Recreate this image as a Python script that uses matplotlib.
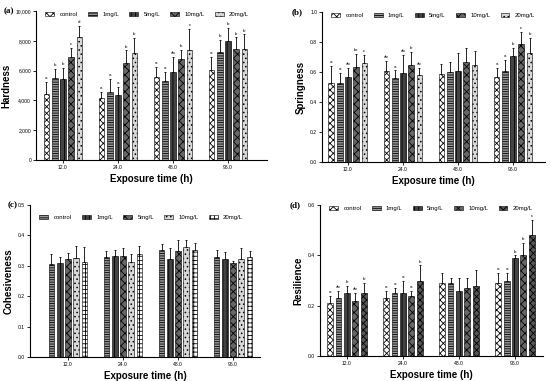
import numpy as np
import matplotlib.pyplot as plt
from matplotlib.ticker import FuncFormatter

plt.rcParams['font.family'] = ['Liberation Sans', 'DejaVu Sans']
plt.rcParams['hatch.linewidth'] = 0.6

times = ['12.0', '24.0', '48.0', '96.0']
series = ['control', '1mg/L', '5mg/L', '10mg/L', '20mg/L']

# rows = exposure time, columns = series
hard_mean = [[4450, 5500, 5430, 6880, 8250],
             [4170, 4560, 4380, 6500, 7200],
             [5600, 5330, 5900, 6800, 7380],
             [6070, 7280, 8000, 7430, 7480]]
hard_err = [[800, 620, 750, 650, 750],
            [420, 880, 530, 850, 1000],
            [650, 580, 1000, 600, 1400],
            [850, 800, 850, 800, 950]]
hard_sig = [['a', 'b', 'b', 'c', 'd'],
            ['a', 'a', 'a', 'b', 'b'],
            ['a', 'a', 'ab', 'b', 'c'],
            ['a', 'b', 'b', 'b', 'b']]

spring_mean = [[0.53, 0.53, 0.565, 0.635, 0.66],
               [0.61, 0.56, 0.595, 0.65, 0.58],
               [0.585, 0.60, 0.605, 0.67, 0.65],
               [0.565, 0.605, 0.71, 0.785, 0.73]]
spring_err = [[0.11, 0.065, 0.065, 0.085, 0.055],
              [0.065, 0.05, 0.12, 0.085, 0.05],
              [0.07, 0.07, 0.12, 0.09, 0.09],
              [0.06, 0.075, 0.05, 0.085, 0.10]]
spring_sig = [['a', 'a', 'ab', 'bc', 'c'],
              ['ab', 'a', 'ab', 'b', 'ab'],
              ['', '', '', '', ''],
              ['a', 'a', 'b', 'c', 'b']]

coh_mean = [[0.305, 0.308, 0.322, 0.325, 0.312],
            [0.328, 0.333, 0.332, 0.312, 0.340],
            [0.352, 0.324, 0.350, 0.362, 0.352],
            [0.328, 0.324, 0.308, 0.322, 0.330]]
coh_err = [[0.035, 0.022, 0.02, 0.04, 0.05],
           [0.02, 0.018, 0.025, 0.028, 0.026],
           [0.02, 0.036, 0.035, 0.022, 0.022],
           [0.023, 0.02, 0.008, 0.036, 0.02]]

res_mean = [[0.21, 0.23, 0.25, 0.22, 0.25],
            [0.23, 0.25, 0.25, 0.24, 0.30],
            [0.29, 0.29, 0.26, 0.27, 0.28],
            [0.29, 0.30, 0.39, 0.40, 0.48]]
res_err = [[0.03, 0.03, 0.03, 0.03, 0.04],
           [0.03, 0.02, 0.05, 0.02, 0.06],
           [0.04, 0.02, 0.05, 0.04, 0.06],
           [0.04, 0.03, 0.01, 0.05, 0.06]]
res_sig = [['a', 'ab', 'b', 'ab', 'b'],
           ['a', 'a', 'a', 'a', 'b'],
           ['', '', '', '', ''],
           ['a', 'a', 'b', 'b', 'c']]

# fill / hatch patterns
checker = ('white', 'xxxxx')
hlines = ('#999999', '-------')
vlines = ('#444444', '||||')
dark_checker = ('#666666', 'xxxx')
light_dots = ('#d8d8d8', '....')
light_grid = ('white', '++++')
darker_checker = ('#555555', 'xxxxx')

W, H = 550, 381
fig = plt.figure(figsize=(W / 100, H / 100), dpi=100)


def panel(rect, label, lab_xy, ylabel, means, errs, sigs, ylim, step, xlim,
          styles, fmt, leg_y):
    l, t, r, b = rect
    ax = fig.add_axes([l / W, (H - b) / H, (r - l) / W, (b - t) / H])
    means = np.array(means)
    errs = np.array(errs)
    x = np.arange(len(times))
    width = 0.15
    for j, name in enumerate(series):
        fc, hatch = styles[j]
        xs = x + (j - 2) * width
        ax.bar(xs, means[:, j], width=0.105, color=fc, edgecolor='black',
               hatch=hatch, linewidth=0.4, label=name, zorder=2)
        ax.errorbar(xs, means[:, j], yerr=[np.zeros(len(x)), errs[:, j]],
                    fmt='none', ecolor='black', elinewidth=0.6, capsize=1.0,
                    capthick=0.6, zorder=3)
        if sigs is not None:
            for i in range(len(x)):
                if sigs[i][j]:
                    ax.text(xs[i], means[i, j] + errs[i, j] + ylim * 0.012,
                            sigs[i][j], ha='center', va='bottom', fontsize=3.2)
    ax.set_xlim(*xlim)
    ax.set_ylim(0, ylim)
    ax.set_yticks(np.arange(0, ylim + step / 2, step))
    ax.yaxis.set_major_formatter(FuncFormatter(fmt))
    ax.set_xticks(x)
    ax.set_xticklabels(times)
    ax.tick_params(labelsize=3.6, length=2, width=0.6, pad=1.5)
    for s in ['top', 'right']:
        ax.spines[s].set_visible(False)
    for s in ['left', 'bottom']:
        ax.spines[s].set_linewidth(0.8)
    ax.set_xlabel('Exposure time (h)', fontsize=7, fontweight='bold', labelpad=3)
    ax.set_ylabel(ylabel, fontsize=7, fontweight='bold', labelpad=3)
    ax.legend(ncol=5, loc='upper left', bbox_to_anchor=(0.03, leg_y),
              frameon=False, fontsize=4.3, handlelength=1.5, handleheight=0.7,
              handletextpad=0.9, columnspacing=1.7, borderaxespad=0)
    fig.text(lab_xy[0] / W, 1 - lab_xy[1] / H, label, fontsize=6.5,
             fontweight='bold', family='Liberation Serif', va='center')
    return ax


std = [checker, hlines, vlines, dark_checker, light_dots]
panel((36, 11, 267, 160), '(a)', (4, 11), 'Hardness', hard_mean, hard_err,
      hard_sig, 10000, 2000, (-0.49, 3.71), std, lambda v, _: f'{v:,.0f}', 1.01)
panel((322, 12, 545, 162), '(b)', (292, 12), 'Springness', spring_mean,
      spring_err, spring_sig, 1.0, 0.2, (-0.47, 3.58), std,
      lambda v, _: f'{v:.1f}', 1.01)
panel((30, 205, 260, 357), '(c)', (8, 205), 'Cohesiveness', coh_mean, coh_err,
      None, 0.5, 0.1, (-0.69, 3.49),
      [hlines, vlines, dark_checker, light_dots, light_grid],
      lambda v, _: f'{v:.1f}', 0.95)
panel((320, 205, 543, 356), '(d)', (290, 205), 'Resilience', res_mean, res_err,
      res_sig, 0.6, 0.2, (-0.48, 3.5),
      [checker, hlines, vlines, dark_checker, darker_checker],
      lambda v, _: f'{v:.1f}', 1.01)

plt.savefig('out.png', dpi=100)
